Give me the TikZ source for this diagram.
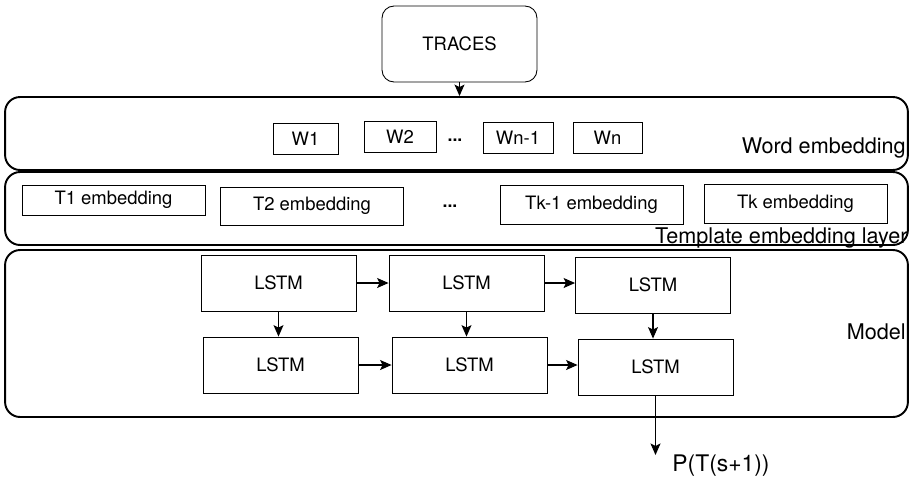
\documentclass[tikz,border=0pt]{standalone}
\usepackage{fontspec}
\setmainfont{TeX Gyre Heros}
\usepackage{tikz}
\usetikzlibrary{positioning, arrows.meta, calc, shapes}

\tikzset{
	layer/.style={rounded corners=0.3cm, draw, line width=1.1pt, rectangle, minimum width=18.06cm},
	box/.style={draw, line width=0.5pt, rectangle, text centered, font=\fontsize{10.5}{12}\selectfont},
	lstm/.style={box, minimum width=3.1cm, minimum height=1.12cm},
	tbox/.style={box, minimum width=3.66cm},
	wbox/.style={box, minimum height=0.62cm},
	lbl/.style={anchor=east, inner sep=0pt, font=\fontsize{12.3}{14}\selectfont},
	freccia/.style={-{Stealth[length=2.3mm, width=2mm, inset=0.5mm]}, line width=0.6pt}
}

\begin{document}
\begin{tikzpicture}[x=0.02cm, y=-0.02cm]
		\useasboundingbox (0,0) rectangle (913,481);
		
		%Sorgente
		\node(Traces) at (459.5,44) [rounded corners=0.24cm, box, minimum width=3.1cm, minimum height=1.52cm]{TRACES};
		
		%Strati
		\node(WordLayer) at (456.5,133.5) [layer, minimum height=1.46cm]{};
		\node(TemplateLayer) at (456.5,208.5) [layer, minimum height=1.46cm]{};
		\node(ModelLayer) at (456.5,333.5) [layer, minimum height=3.34cm]{};
		
		\node(WordLabel) at (906,148) [lbl]{Word embedding};
		\node(TemplateLabel) at (908,238) [lbl]{Template embedding layer};
		\node(ModelLabel) at (906,332) [lbl]{Model};
		
		%Parole
		\node(W1) at (305.5,138.5) [wbox, minimum width=1.3cm]{W1};
		\node(W2) at (400,137) [wbox, minimum width=1.44cm]{W2};
		\node(WDots) at (455,140) [font=\bfseries]{...};
		\node(Wn1) at (518,138) [wbox, minimum width=1.4cm]{Wn-1};
		\node(Wn) at (607.5,138) [wbox, minimum width=1.38cm]{Wn};
		
		%Template
		\node(T1) at (113.5,200) [tbox, minimum height=0.6cm]{T1 embedding};
		\node(T2) at (312,206) [tbox, minimum height=0.76cm]{T2 embedding};
		\node(TDots) at (450,206) [font=\bfseries]{...};
		\node(Tk1) at (591.5,204.5) [tbox, minimum height=0.78cm]{Tk-1 embedding};
		\node(Tk) at (795.5,203.5) [tbox, minimum height=0.78cm]{Tk embedding};
		
		%LSTM
		\node(L1) at (278.5,283) [lstm]{LSTM};
		\node(L2) at (466.5,283) [lstm]{LSTM};
		\node(L3) at (653,285) [lstm]{LSTM};
		\node(L4) at (280.5,365) [lstm]{LSTM};
		\node(L5) at (469.5,365) [lstm]{LSTM};
		\node(L6) at (655.5,367) [lstm]{LSTM};
		
		\coordinate (Uscita) at (655.5,455);
		\node(Output) at (721,466) [inner sep=0pt, font=\fontsize{13}{15}\selectfont]{P(T(s+1))};
		
		%Collegamenti
		\draw[freccia] (Traces.south) -- (Traces.south |- WordLayer.north);
		\draw[freccia] (L1.east) -- (L1.east -| L2.west);
		\draw[freccia] (L2.east) -- (L2.east -| L3.west);
		\draw[freccia] (L4.east) -- (L4.east -| L5.west);
		\draw[freccia] (L5.east) -- (L5.east -| L6.west);
		\draw[freccia] (L1.south) -- (L1.south |- L4.north);
		\draw[freccia] (L2.south) -- (L2.south |- L5.north);
		\draw[freccia] (L3.south) -- (L3.south |- L6.north);
		\draw[freccia] (L6.south) -- (Uscita);
		
\end{tikzpicture}
\end{document}
